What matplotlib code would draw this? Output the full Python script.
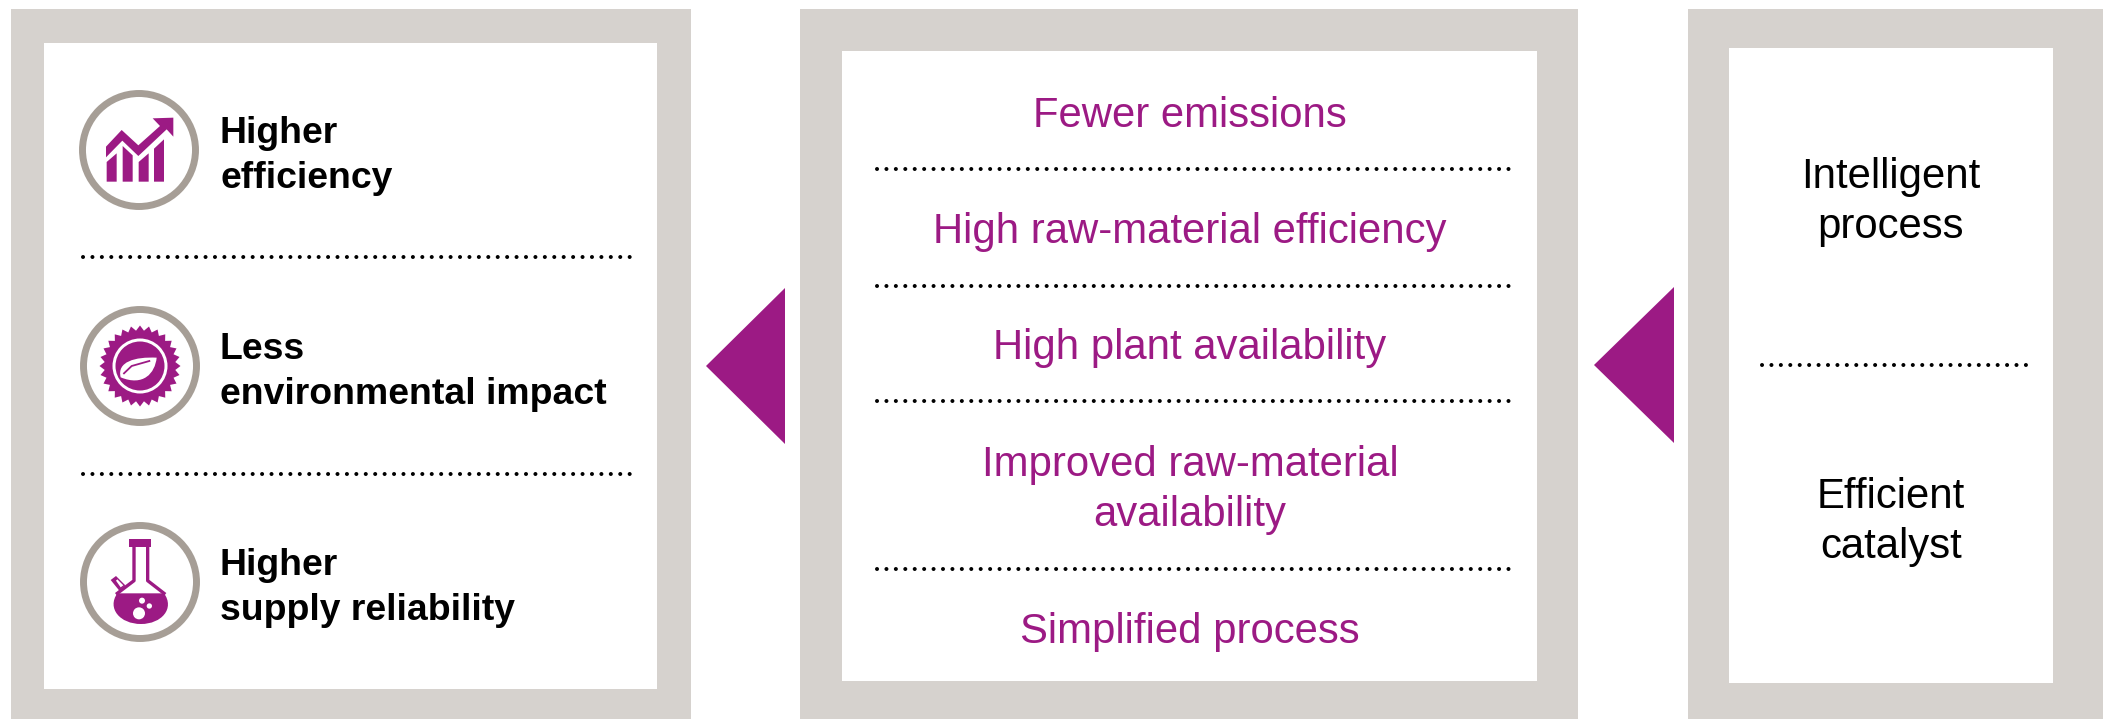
import numpy as np
import matplotlib
matplotlib.use("Agg")
import matplotlib.pyplot as plt
from matplotlib.patches import Rectangle, Polygon, Circle, PathPatch
from matplotlib.path import Path

W, H = 2103, 719
GREY = "#D6D2CE"; RING = "#A69E96"; PURPLE = "#9C1A84"

left_labels = ["Higher\nefficiency", "Less\nenvironmental impact", "Higher\nsupply reliability"]
middle_labels = ["Fewer emissions", "High raw-material efficiency", "High plant availability",
                 "Improved raw-material\navailability", "Simplified process"]
right_labels = ["Intelligent\nprocess", "Efficient\ncatalyst"]

plt.rcParams["font.family"] = ["Liberation Sans", "DejaVu Sans"]
fig = plt.figure(figsize=(W/100, H/100), dpi=100)
ax = fig.add_axes([0, 0, 1, 1])
ax.set_xlim(0, W); ax.set_ylim(H, 0); ax.axis("off")

def box(x0, y0, x1, y1, ix0, iy0, ix1, iy1):
    ax.add_patch(Rectangle((x0, y0), x1-x0, y1-y0, fc=GREY, ec="none"))
    ax.add_patch(Rectangle((ix0, iy0), ix1-ix0, iy1-iy0, fc="white", ec="none"))

box(11, 9, 691, 719, 44, 43, 657, 689)
box(800, 9, 1578, 719, 842, 51, 1537, 681)
box(1688, 9, 2103, 719, 1729, 48, 2053, 683)

ax.add_patch(Polygon([(706, 366), (785, 288), (785, 444)], fc=PURPLE, ec="none"))
ax.add_patch(Polygon([(1594, 365), (1674, 287), (1674, 443)], fc=PURPLE, ec="none"))

def dots(x0, x1, y):
    ax.plot([x0, x1], [y, y], color="black", lw=2.9, ls=(0, (0.01, 2.33)), dash_capstyle="round")

for y in (257, 474):
    dots(83, 631, y)
for y in (169, 286, 401, 569):
    dots(877, 1510, y)
dots(1762, 2028, 365)

FS = 30.2
FB = 26.9
for lab, y in zip(left_labels, (156, 372, 588)):
    ax.text(220, y, lab, fontsize=FB, fontweight="bold", color="black", va="center", ha="left", linespacing=1.4)
for lab, y in zip(middle_labels, (116, 232, 348, 490, 632)):
    ax.text(1190, y, lab, fontsize=FS, color=PURPLE, va="center", ha="center", linespacing=1.3)
for lab, y in zip(right_labels, (202, 522)):
    ax.text(1891, y, lab, fontsize=FS, color="black", va="center", ha="center", linespacing=1.3)

def Z(ox, oy, pts):
    return [(ox + a/3, oy + b/3) for a, b in pts]

def ring(c):
    ax.add_patch(Circle(c, 56.5, fc="white", ec=RING, lw=5))

# icon 1: rising chart
ring((139, 150))
o = (60, 70)
for pts in ([(140, 335), (170, 335), (170, 250), (140, 276)],
            [(188, 335), (218, 335), (218, 256), (188, 228)],
            [(236, 335), (266, 335), (266, 250), (236, 276)],
            [(282, 335), (312, 335), (312, 208), (282, 236)]):
    ax.add_patch(Polygon(Z(*o, pts), fc=PURPLE, ec="none"))
ax.add_patch(Polygon(Z(*o, [(138, 230), (185, 180), (235, 226), (300, 168), (278, 145), (340, 143), (340, 200),
                            (320, 178), (235, 258), (187, 212), (138, 262)]), fc=PURPLE, ec="none"))

# icon 2: seal with leaf
ring((140, 366))
c = np.array([140, 366.0])
ang = np.linspace(0, 2*np.pi, 56, endpoint=False)
rad = np.where(np.arange(56) % 2 == 0, 40.5, 35.5)
ax.add_patch(Polygon(np.c_[c[0]+rad*np.cos(ang), c[1]+rad*np.sin(ang)], fc=PURPLE, ec="none"))
ax.add_patch(Circle(c, 27.5, fc="white", ec="none"))
ax.add_patch(Circle(c, 24.5, fc=PURPLE, ec="none"))
o = (60, 290)
leaf = [Path.MOVETO, Path.CURVE4, Path.CURVE4, Path.CURVE4, Path.CURVE4, Path.CURVE4, Path.CURVE4]
ax.add_patch(PathPatch(Path(Z(*o, [(182, 262), (170, 215), (225, 200), (290, 203), (285, 250), (250, 290), (182, 262)]), leaf),
                       fc="white", ec="none"))
ax.plot(*zip(*Z(*o, [(192, 250), (215, 228), (268, 213)])), color=PURPLE, lw=1.3)

# icon 3: flask
ring((140, 582))
o = (60, 510)
ax.add_patch(Rectangle((60+208/3, 510+88/3), 64/3, 24/3, fc=PURPLE, ec="none"))
ax.plot(*zip(*Z(*o, [(222, 112), (222, 212), (172, 250)])), color=PURPLE, lw=2.4)
ax.plot(*zip(*Z(*o, [(263, 112), (263, 212), (312, 250)])), color=PURPLE, lw=2.4)
ax.add_patch(Polygon(Z(*o, [(152, 210), (168, 198), (196, 226), (178, 242)]), fc=PURPLE, ec="none"))
ax.add_patch(Polygon(Z(*o, [(168, 212), (172, 208), (190, 226), (182, 232)]), fc="white", ec="none"))
liq_codes = [Path.MOVETO, Path.LINETO, Path.CURVE4, Path.CURVE4, Path.CURVE4,
             Path.CURVE4, Path.CURVE4, Path.CURVE4, Path.CLOSEPOLY]
ax.add_patch(PathPatch(Path(Z(*o, [(172, 250), (312, 250), (345, 295), (305, 342), (243, 342),
                                   (180, 342), (140, 295), (172, 250), (172, 250)]), liq_codes),
                       fc=PURPLE, ec="none"))
for a, b, r in [(237, 310, 18), (246, 272, 9), (268, 288, 8)]:
    ax.add_patch(Circle((60+a/3, 510+b/3), r/3, fc="white", ec="none"))

fig.savefig("out.png", dpi=100)
